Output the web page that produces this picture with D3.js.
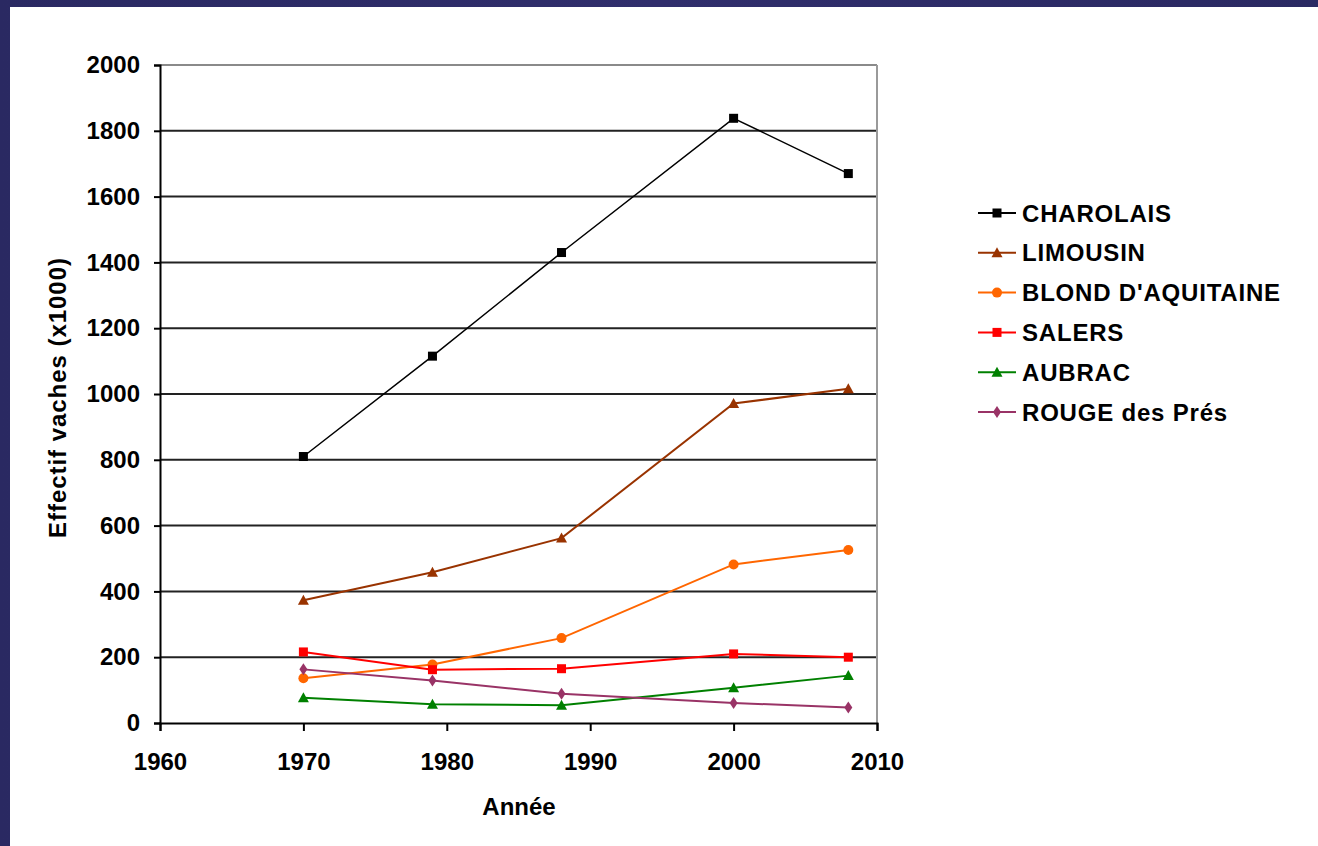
<!DOCTYPE html>
<html><head><meta charset="utf-8">
<script src="https://cdn.jsdelivr.net/npm/d3@7"></script>
<style>html,body{margin:0;padding:0;background:#2b2a63;}svg{display:block;}</style>
</head><body>
<svg id="c" width="1318" height="846"></svg>
<script>
const years = [1970, 1979, 1988, 2000, 2008];
const seriesNames = ["CHAROLAIS", "LIMOUSIN", "BLOND D'AQUITAINE", "SALERS", "AUBRAC", "ROUGE des Prés"];
const charolais = [810, 1115, 1430, 1838, 1670];
const limousin = [373, 458, 562, 971, 1016];
const blond = [136, 178, 258, 482, 526];
const salers = [216, 162, 165, 210, 200];
const aubrac = [77, 57, 54, 107, 144];
const rouge = [163, 129, 89, 61, 47];
const xTicks = [1960, 1970, 1980, 1990, 2000, 2010];
const yTicks = [0, 200, 400, 600, 800, 1000, 1200, 1400, 1600, 1800, 2000];
const xTitle = "Année";
const yTitle = "Effectif vaches (x1000)";

const colors = ["#000000", "#993300", "#ff6600", "#ff0000", "#008000", "#993366"];
const shapes = ["square", "triangle", "circle", "square", "triangle", "diamond"];
const values = [charolais, limousin, blond, salers, aubrac, rouge];
const series = seriesNames.map((n, i) => ({name: n, color: colors[i], shape: shapes[i], vals: values[i]}));

const svg = d3.select("#c");
const defs = svg.append("defs");
const g0 = defs.append("linearGradient").attr("id","bg").attr("x1","0").attr("x2","1").attr("y1","0").attr("y2","0");
g0.append("stop").attr("offset","0").attr("stop-color","#2a2962");
g0.append("stop").attr("offset","0.5").attr("stop-color","#302e6c");
g0.append("stop").attr("offset","1").attr("stop-color","#2a2962");
svg.append("rect").attr("width",1318).attr("height",846).attr("fill","url(#bg)");
svg.append("rect").attr("x",10).attr("y",7).attr("width",1308).attr("height",839).attr("fill","#ffffff");

const L = 160, R = 877, T = 65, B = 723;
const x = d3.scaleLinear().domain([1960, 2010]).range([L, R]);
const y = d3.scaleLinear().domain([0, 2000]).range([B, T]);

const font = "'Liberation Sans', Arial, sans-serif";
const fs = 24;

svg.append("g").selectAll("line").data(yTicks.filter(v => v > 0 && v < 2000)).join("line")
  .attr("x1", L).attr("x2", R).attr("y1", d => y(d)).attr("y2", d => y(d))
  .attr("stroke", "#222").attr("stroke-width", 2);
svg.append("line").attr("x1", L).attr("x2", R).attr("y1", y(2000)).attr("y2", y(2000)).attr("stroke", "#8a8a8a").attr("stroke-width", 2);
svg.append("line").attr("x1", R).attr("x2", R).attr("y1", T).attr("y2", B).attr("stroke", "#9a9a9a").attr("stroke-width", 2);

const yAxis = d3.axisLeft(y).tickValues(yTicks).tickFormat(d3.format("d")).tickSize(6).tickPadding(14);
const gy = svg.append("g").attr("transform", `translate(${L},0)`).call(yAxis);
gy.select(".domain").attr("stroke", "#000").attr("stroke-width", 2);
gy.selectAll(".tick line").attr("stroke", "#000").attr("stroke-width", 2);
gy.selectAll("text").attr("font-family", font).attr("font-weight", "bold").attr("font-size", fs).attr("fill", "#000");

const xAxis = d3.axisBottom(x).tickValues(xTicks).tickFormat(d3.format("d")).tickSize(8).tickPadding(22);
const gx = svg.append("g").attr("transform", `translate(0,${B})`).call(xAxis);
gx.select(".domain").attr("stroke", "#000").attr("stroke-width", 2);
gx.selectAll(".tick line").attr("stroke", "#000").attr("stroke-width", 2);
gx.selectAll("text").attr("font-family", font).attr("font-weight", "bold").attr("font-size", fs).attr("fill", "#000");

svg.append("text").attr("x", 519).attr("y", 815).attr("text-anchor", "middle")
  .attr("font-family", font).attr("font-weight", "bold").attr("font-size", fs).text(xTitle);
svg.append("text").attr("transform", "translate(66,398) rotate(-90)").attr("text-anchor", "middle")
  .attr("font-family", font).attr("font-weight", "bold").attr("font-size", fs)
  .attr("textLength", 280).attr("lengthAdjust", "spacing").text(yTitle);

function marker(sel, shape, color) {
  if (shape === "square") {
    sel.append("rect").attr("x", -4.5).attr("y", -4.5).attr("width", 9).attr("height", 9).attr("fill", color);
  } else if (shape === "triangle") {
    sel.append("path").attr("d", "M0,-5.5L5.5,4.5L-5.5,4.5Z").attr("fill", color);
  } else if (shape === "circle") {
    sel.append("circle").attr("r", 5).attr("fill", color);
  } else if (shape === "diamond") {
    sel.append("path").attr("d", "M0,-6L4,0L0,6L-4,0Z").attr("fill", color);
  }
}

const line = d3.line().x((d, i) => x(years[i])).y(d => y(d));
series.forEach((s, si) => {
  svg.append("path").attr("d", line(s.vals)).attr("fill", "none")
    .attr("stroke", s.color).attr("stroke-width", si === 0 ? 1.5 : 2);
  s.vals.forEach((v, i) => {
    const m = svg.append("g").attr("transform", `translate(${x(years[i])},${y(v)})`);
    marker(m, s.shape, s.color);
  });
});

const lg = svg.append("g");
series.forEach((s, i) => {
  const cy = 213 + i * 39.8;
  lg.append("line").attr("x1", 978).attr("x2", 1016).attr("y1", cy).attr("y2", cy)
    .attr("stroke", s.color).attr("stroke-width", 2);
  const m = lg.append("g").attr("transform", `translate(997,${cy})`);
  marker(m, s.shape, s.color);
  lg.append("text").attr("x", 1022).attr("y", cy + 8.5).attr("font-family", font)
    .attr("font-weight", "bold").attr("font-size", fs).attr("letter-spacing", 0.8)
    .attr("fill", "#000").text(s.name);
});
</script>
</body></html>
